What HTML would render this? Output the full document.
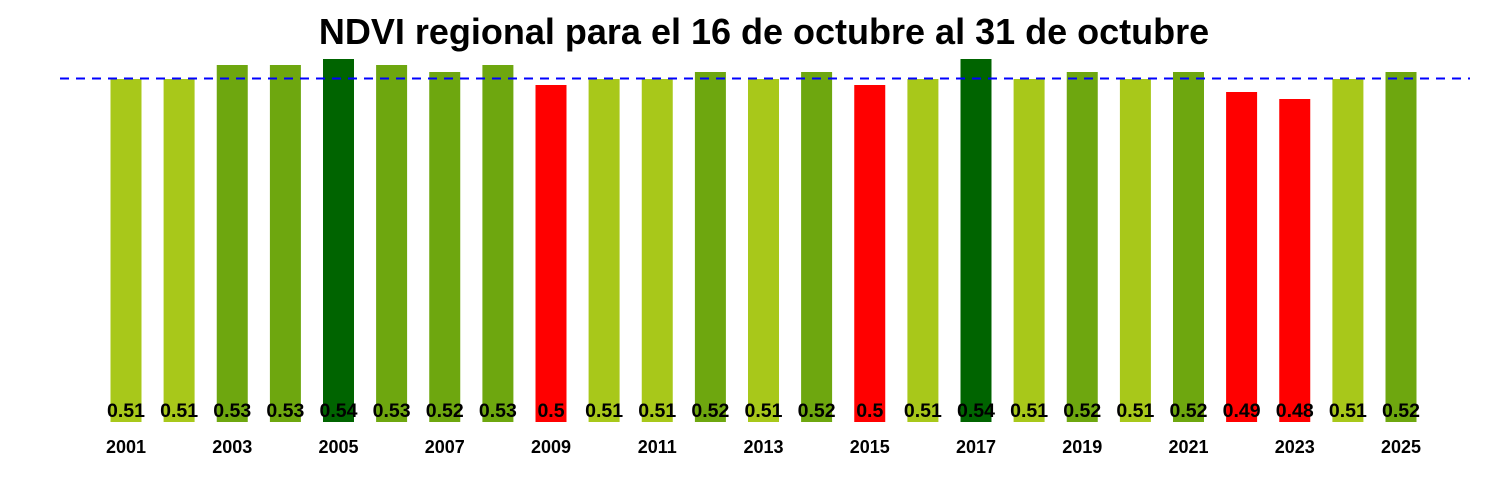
<!DOCTYPE html>
<html><head><meta charset="utf-8"><style>body{margin:0;background:#fff}svg{display:block}</style></head><body>
<svg width="1500" height="500" xmlns="http://www.w3.org/2000/svg" font-family="Liberation Sans, Arial, sans-serif">
<text x="764" y="44" text-anchor="middle" font-size="36" font-weight="bold">NDVI regional para el 16 de octubre al 31 de octubre</text>
<g>
<rect x="110.5" y="79" width="31" height="343" fill="#a8c81a"/>
<rect x="163.6" y="79" width="31" height="343" fill="#a8c81a"/>
<rect x="216.75" y="65" width="31" height="357" fill="#6ea70f"/>
<rect x="269.9" y="65" width="31" height="357" fill="#6ea70f"/>
<rect x="323" y="59" width="31" height="363" fill="#006400"/>
<rect x="376.1" y="65" width="31" height="357" fill="#6ea70f"/>
<rect x="429.25" y="72" width="31" height="350" fill="#6ea70f"/>
<rect x="482.4" y="65" width="31" height="357" fill="#6ea70f"/>
<rect x="535.5" y="85" width="31" height="337" fill="#ff0000"/>
<rect x="588.6" y="79" width="31" height="343" fill="#a8c81a"/>
<rect x="641.75" y="79" width="31" height="343" fill="#a8c81a"/>
<rect x="694.9" y="72" width="31" height="350" fill="#6ea70f"/>
<rect x="748" y="79" width="31" height="343" fill="#a8c81a"/>
<rect x="801.1" y="72" width="31" height="350" fill="#6ea70f"/>
<rect x="854.25" y="85" width="31" height="337" fill="#ff0000"/>
<rect x="907.4" y="79" width="31" height="343" fill="#a8c81a"/>
<rect x="960.5" y="59" width="31" height="363" fill="#006400"/>
<rect x="1013.6" y="79" width="31" height="343" fill="#a8c81a"/>
<rect x="1066.75" y="72" width="31" height="350" fill="#6ea70f"/>
<rect x="1119.9" y="79" width="31" height="343" fill="#a8c81a"/>
<rect x="1173" y="72" width="31" height="350" fill="#6ea70f"/>
<rect x="1226.1" y="92" width="31" height="330" fill="#ff0000"/>
<rect x="1279.25" y="99" width="31" height="323" fill="#ff0000"/>
<rect x="1332.4" y="79" width="31" height="343" fill="#a8c81a"/>
<rect x="1385.5" y="72" width="31" height="350" fill="#6ea70f"/>
</g>
<g font-size="19.5" font-weight="bold" text-anchor="middle">
<text x="126" y="417">0.51</text>
<text x="179.1" y="417">0.51</text>
<text x="232.25" y="417">0.53</text>
<text x="285.4" y="417">0.53</text>
<text x="338.5" y="417">0.54</text>
<text x="391.6" y="417">0.53</text>
<text x="444.75" y="417">0.52</text>
<text x="497.9" y="417">0.53</text>
<text x="551" y="417">0.5</text>
<text x="604.1" y="417">0.51</text>
<text x="657.25" y="417">0.51</text>
<text x="710.4" y="417">0.52</text>
<text x="763.5" y="417">0.51</text>
<text x="816.6" y="417">0.52</text>
<text x="869.75" y="417">0.5</text>
<text x="922.9" y="417">0.51</text>
<text x="976" y="417">0.54</text>
<text x="1029.1" y="417">0.51</text>
<text x="1082.25" y="417">0.52</text>
<text x="1135.4" y="417">0.51</text>
<text x="1188.5" y="417">0.52</text>
<text x="1241.6" y="417">0.49</text>
<text x="1294.75" y="417">0.48</text>
<text x="1347.9" y="417">0.51</text>
<text x="1401" y="417">0.52</text>
</g>
<g font-size="18" font-weight="bold" text-anchor="middle">
<text x="126" y="453">2001</text>
<text x="232.25" y="453">2003</text>
<text x="338.5" y="453">2005</text>
<text x="444.75" y="453">2007</text>
<text x="551" y="453">2009</text>
<text x="657.25" y="453">2011</text>
<text x="763.5" y="453">2013</text>
<text x="869.75" y="453">2015</text>
<text x="976" y="453">2017</text>
<text x="1082.25" y="453">2019</text>
<text x="1188.5" y="453">2021</text>
<text x="1294.75" y="453">2023</text>
<text x="1401" y="453">2025</text>
</g>
<line x1="60" y1="78.5" x2="1470" y2="78.5" stroke="#0000ff" stroke-width="2" stroke-dasharray="9,7"/>
</svg>
</body></html>
